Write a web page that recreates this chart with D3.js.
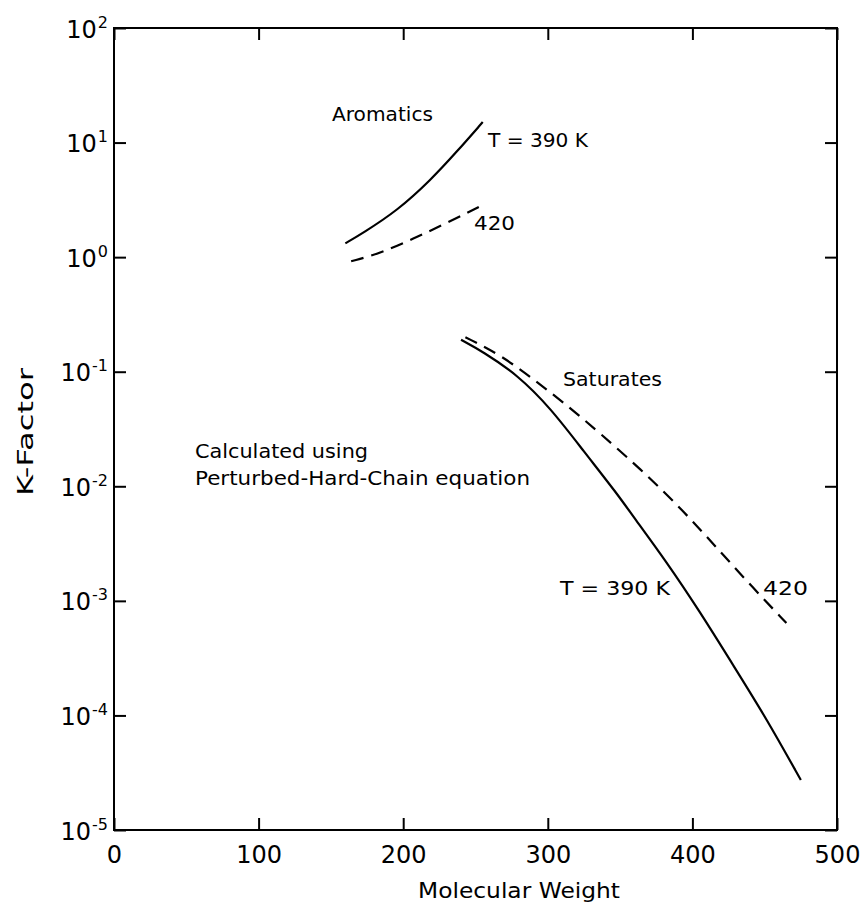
<!DOCTYPE html>
<html>
<head>
<meta charset="utf-8">
<script src="https://cdn.jsdelivr.net/npm/d3@7"></script>
<style>
  html, body { margin: 0; padding: 0; background: #fff; }
  svg { display: block; }
  text { font-family: "DejaVu Sans", sans-serif; fill: #000; }
</style>
</head>
<body>
<svg id="chart" width="865" height="903"></svg>
<script>
// ---- data ----
const xTickValues = [0, 100, 200, 300, 400, 500];
const yTickExponents = [-5, -4, -3, -2, -1, 0, 1, 2];

// Aromatics
const aroMW390 = [160, 172, 196, 219, 237, 255];
const aroK390  = [1.32, 1.62, 2.55, 4.7, 8.3, 15.1];
const aroMW420 = [164, 184, 207, 230, 253];
const aroK420  = [0.92, 1.08, 1.45, 1.98, 2.77];

// Saturates
const satMW390 = [240, 255, 279, 302, 325, 348, 359, 382, 405, 428, 451, 475];
const satK390  = [0.19, 0.150, 0.094, 0.048, 0.0201, 0.0086, 0.00546, 0.0022, 0.00081, 0.000277, 0.000095, 0.0000273];
const satMW420 = [243, 267, 290, 313, 336, 366, 394, 417, 440, 465];
const satK420  = [0.200, 0.141, 0.086, 0.0514, 0.0291, 0.0135, 0.00604, 0.00289, 0.00138, 0.00064];

// ---- layout ----
const svg = d3.select("#chart");
const L = 114, R = 837, T = 28, B = 830;
const x = d3.scaleLinear().domain([0, 500]).range([L, R]);
const y = d3.scaleLog().domain([1e-5, 1e2]).range([B, T]);
const yTickValues = yTickExponents.map(e => Math.pow(10, e));

// frame
svg.append("rect").attr("x", L).attr("y", T).attr("width", R - L).attr("height", B - T)
  .attr("fill", "none").attr("stroke", "#000").attr("stroke-width", 2);

function styleAxis(g) {
  g.select(".domain").remove();
  g.selectAll(".tick line").attr("stroke", "#000").attr("stroke-width", 2);
}

// bottom axis
const gx = svg.append("g").attr("transform", `translate(0,${B})`)
  .call(d3.axisBottom(x).tickValues(xTickValues).tickSize(-12).tickSizeOuter(0).tickPadding(0)
        .tickFormat(d3.format("d")));
styleAxis(gx);
gx.selectAll(".tick text").attr("font-size", 24).attr("font-family", "DejaVu Sans")
  .attr("y", 33).attr("dy", 0).attr("fill", "#000");

// top axis (ticks only)
const gxt = svg.append("g").attr("transform", `translate(0,${T})`)
  .call(d3.axisTop(x).tickValues(xTickValues).tickSize(-12).tickSizeOuter(0).tickFormat(""));
styleAxis(gxt);

// left axis
const gy = svg.append("g").attr("transform", `translate(${L},0)`)
  .call(d3.axisLeft(y).tickValues(yTickValues).tickSize(-12).tickSizeOuter(0).tickFormat(""));
styleAxis(gy);
gy.selectAll(".tick").each(function(d) {
  const e = Math.round(Math.log10(d));
  const t = d3.select(this).append("text")
    .attr("x", -6).attr("y", 9).attr("text-anchor", "end").attr("font-size", 24).attr("fill", "#000");
  t.append("tspan").text("10");
  t.append("tspan").attr("font-size", 16).attr("dy", -10).attr("dx", 1).text(String(e));
});

// right axis (ticks only)
const gyr = svg.append("g").attr("transform", `translate(${R},0)`)
  .call(d3.axisRight(y).tickValues(yTickValues).tickSize(-12).tickSizeOuter(0).tickFormat(""));
styleAxis(gyr);

// ---- curves ----
const line = d3.line().x(d => x(d[0])).y(d => y(d[1])).curve(d3.curveBasis);
function curve(mw, k, dashed) {
  svg.append("path").datum(mw.map((m, i) => [m, k[i]]))
    .attr("d", line).attr("fill", "none").attr("stroke", "#000")
    .attr("stroke-width", 2.2)
    .attr("stroke-dasharray", dashed ? "13,8" : null);
}
curve(aroMW390, aroK390, false);
curve(aroMW420, aroK420, true);
curve(satMW390, satK390, false);
curve(satMW420, satK420, true);

// ---- annotations ----
function label(txt, x0, yb, w, size) {
  svg.append("text").attr("x", x0).attr("y", yb).attr("font-size", size || 20)
    .attr("textLength", w).attr("lengthAdjust", "spacingAndGlyphs").text(txt);
}
label("Aromatics", 332, 121, 101);
label("T = 390 K", 488, 147, 100);
label("420", 474, 230, 41);
label("Saturates", 563, 386, 99);
label("Calculated using", 195, 458, 173);
label("Perturbed-Hard-Chain equation", 195, 485, 335);
label("T = 390 K", 560, 595, 110);
label("420", 763, 595, 45);

// axis titles
svg.append("text").attr("x", 418).attr("y", 898).attr("font-size", 22)
  .attr("textLength", 202).attr("lengthAdjust", "spacingAndGlyphs").text("Molecular Weight");
svg.append("text").attr("transform", "translate(33,432) rotate(-90)")
  .attr("text-anchor", "middle").attr("font-size", 22)
  .attr("textLength", 128).attr("lengthAdjust", "spacingAndGlyphs").text("K-Factor");
</script>
</body>
</html>
